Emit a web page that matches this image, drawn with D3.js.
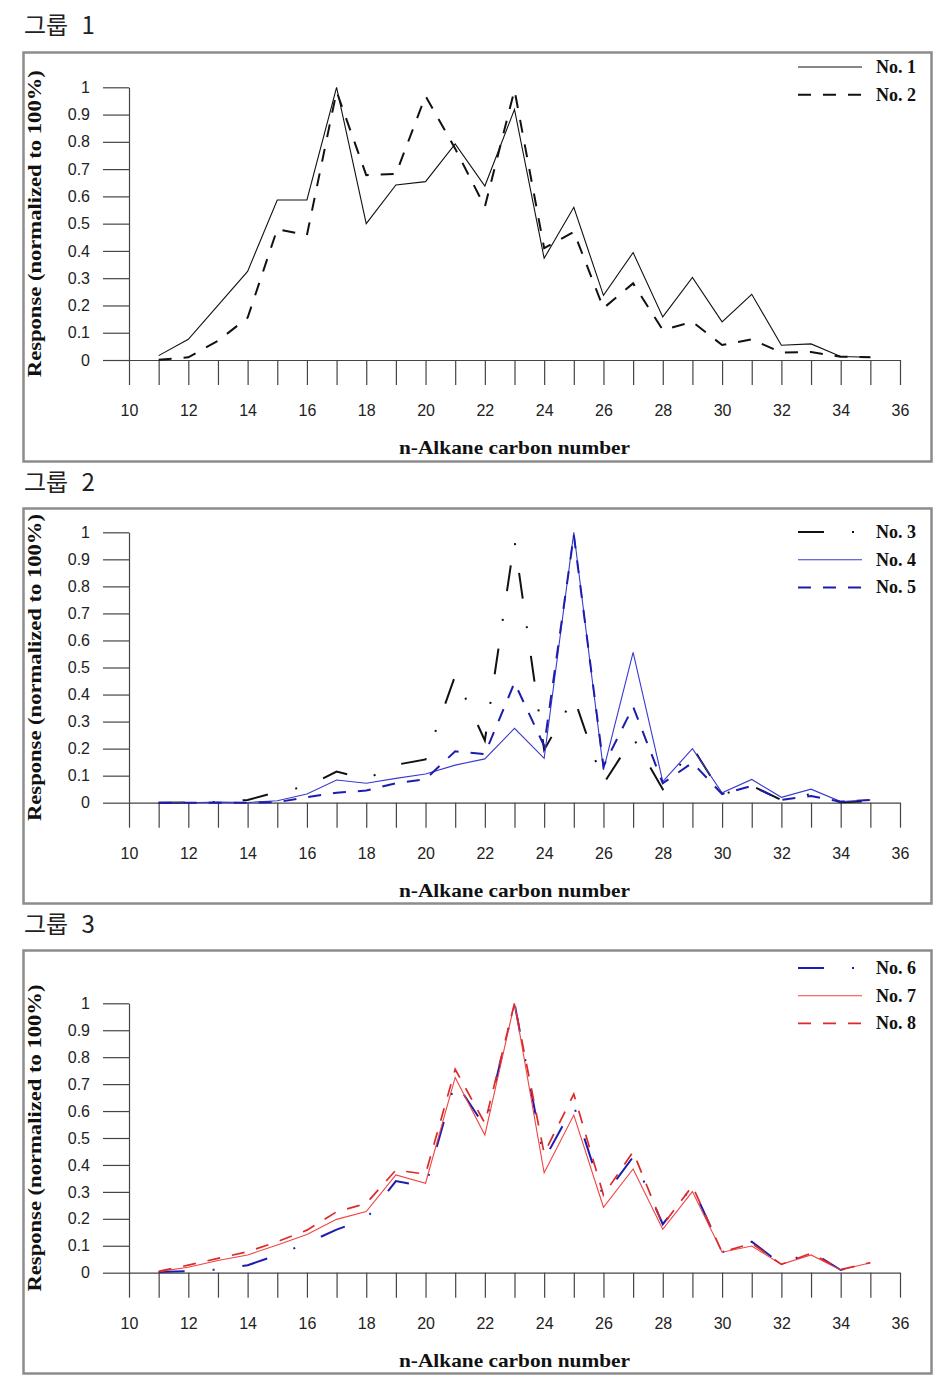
<!DOCTYPE html>
<html><head><meta charset="utf-8">
<script src="https://cdn.jsdelivr.net/npm/d3@7/dist/d3.min.js"></script>
<style>body{margin:0;background:#fff}</style>
</head><body>
<svg id="c" width="944" height="1378"></svg>
<script>
// ---------- DATA ----------
const carbon = [11,12,13,14,15,16,17,18,19,20,21,22,23,24,25,26,27,28,29,30,31,32,33,34,35];
const no1 = [0.016,0.076,0.2,0.325,0.587,0.587,1.0,0.5,0.642,0.654,0.792,0.638,0.919,0.373,0.56,0.237,0.394,0.158,0.303,0.14,0.241,0.054,0.059,0.013,0.01];
const no2 = [0.001,0.01,0.07,0.155,0.48,0.458,0.985,0.678,0.682,0.968,0.775,0.562,0.99,0.41,0.47,0.19,0.281,0.11,0.14,0.055,0.076,0.027,0.029,0.012,0.01];
const no3 = [0,0.001,0.003,0.01,0.04,0.06,0.115,0.087,0.14,0.16,0.47,0.23,0.97,0.195,0.39,0.07,0.24,0.05,0.205,0.03,0.063,0.01,0.032,0.002,0.005];
const no4 = [0,0,0.002,0.001,0.007,0.032,0.084,0.072,0.09,0.106,0.139,0.162,0.275,0.164,1.0,0.121,0.556,0.078,0.2,0.037,0.086,0.02,0.05,0.004,0.01];
const no5 = [0,0,0,0,0.002,0.02,0.037,0.045,0.072,0.087,0.19,0.18,0.444,0.21,0.99,0.135,0.355,0.072,0.148,0.032,0.062,0.01,0.025,0.004,0.01];
const no6 = [0.003,0.006,0.012,0.028,0.065,0.11,0.16,0.2,0.34,0.32,0.71,0.542,1.0,0.42,0.62,0.28,0.43,0.18,0.32,0.076,0.115,0.031,0.078,0.01,0.04];
const no7 = [0.004,0.02,0.045,0.066,0.103,0.142,0.198,0.227,0.363,0.332,0.725,0.511,1.0,0.371,0.585,0.243,0.385,0.161,0.301,0.076,0.099,0.031,0.066,0.01,0.037];
const no8 = [0.005,0.028,0.053,0.078,0.115,0.158,0.226,0.257,0.381,0.366,0.755,0.555,1.0,0.443,0.663,0.288,0.449,0.177,0.322,0.076,0.109,0.031,0.072,0.012,0.037];

const xTicks = [10,11,12,13,14,15,16,17,18,19,20,21,22,23,24,25,26,27,28,29,30,31,32,33,34,35,36];
const xLabels = [10,12,14,16,18,20,22,24,26,28,30,32,34,36];
const yTicks = [0,0.1,0.2,0.3,0.4,0.5,0.6,0.7,0.8,0.9,1];
const groupTitles = ["그룹 1","그룹 2","그룹 3"];
const xTitle = "n-Alkane carbon number";
const yTitle = "Response (normalized to 100%)";
const panelSeries = [
  [["No. 1", no1], ["No. 2", no2]],
  [["No. 3", no3], ["No. 4", no4], ["No. 5", no5]],
  [["No. 6", no6], ["No. 7", no7], ["No. 8", no8]]
];

// ---------- STYLE / LAYOUT ----------
const styles = {
  "No. 1": {c:"#111", w:1.1, d:null},
  "No. 2": {c:"#111", w:2, d:"13,12"},
  "No. 3": {c:"#111", w:2, d:"26,28,2,28"},
  "No. 4": {c:"#3a3ad0", w:1.1, d:null},
  "No. 5": {c:"#1c1cae", w:2, d:"13,12"},
  "No. 6": {c:"#1c1cae", w:2, d:"26,28,2,28"},
  "No. 7": {c:"#f04444", w:1.1, d:null},
  "No. 8": {c:"#dc2a2a", w:1.7, d:"13,12"}
};
const layout = [
  {titleY:34, fTop:52, fH:409, y1:87.3, y0:360, legY:67},
  {titleY:491, fTop:508, fH:395, y1:532.3, y0:802.7, legY:532},
  {titleY:933, fTop:950, fH:423, y1:1003.3, y0:1272.7, legY:968}
];
const serif = "'Liberation Serif','DejaVu Serif',serif";
const sans = "'Liberation Sans',Arial,sans-serif";

const svg = d3.select("#c");
const x = d3.scaleLinear().domain([10,36]).range([129,900]);

layout.forEach((L, i) => {
  const g = svg.append("g");
  g.append("text").attr("x",24).attr("y",L.titleY)
    .attr("font-family","'Noto Sans CJK KR',sans-serif").attr("font-size",24)
    .attr("word-spacing",8)
    .attr("fill","#222").text(groupTitles[i]);
  g.append("rect").attr("x",23.5).attr("y",L.fTop+0.5).attr("width",908).attr("height",L.fH)
    .attr("fill","none").attr("stroke","#8c8c8c").attr("stroke-width",2.5);

  const y = d3.scaleLinear().domain([0,1]).range([L.y0, L.y1]);

  const yAxis = d3.axisLeft(y).tickValues(yTicks).tickSize(26).tickSizeOuter(0).tickPadding(13)
    .tickFormat(d => (d===0||d===1) ? String(d) : d.toFixed(1));
  const ya = g.append("g").attr("transform","translate(129,0)").call(yAxis);
  const xAxis = d3.axisBottom(x).tickValues(xTicks).tickSize(25).tickSizeOuter(0).tickPadding(20)
    .tickFormat(d => xLabels.includes(d) ? String(d) : "");
  const xa = g.append("g").attr("transform",`translate(0,${L.y0})`).call(xAxis);
  [ya, xa].forEach(a => {
    a.select(".domain").attr("stroke","#444").attr("stroke-width",1.2);
    a.selectAll(".tick line").attr("stroke","#444").attr("stroke-width",1.2);
    a.selectAll(".tick text").attr("font-family",sans).attr("font-size",16).attr("fill","#222");
  });

  // axis titles
  g.append("text").attr("x",514.5).attr("y",L.y0+94)
    .attr("text-anchor","middle").attr("font-family",serif).attr("font-weight","bold")
    .attr("font-size",19).attr("fill","#111")
    .attr("textLength",231).attr("lengthAdjust","spacingAndGlyphs").text(xTitle);
  const cy = (L.y0+L.y1)/2;
  g.append("text").attr("transform",`translate(41,${cy}) rotate(-90)`)
    .attr("text-anchor","middle").attr("font-family",serif).attr("font-weight","bold")
    .attr("font-size",19).attr("fill","#111")
    .attr("textLength",307).attr("lengthAdjust","spacingAndGlyphs").text(yTitle);

  // lines
  const line = d3.line().x((d,k)=>x(carbon[k])).y(d=>y(d));
  panelSeries[i].forEach(([name, vals]) => {
    const s = styles[name];
    g.append("path").datum(vals).attr("d",line).attr("fill","none")
      .attr("stroke",s.c).attr("stroke-width",s.w)
      .attr("stroke-dasharray",s.d).attr("stroke-linejoin","miter");
  });

  // legend
  panelSeries[i].forEach(([name], k) => {
    const s = styles[name];
    const ly = L.legY + k*27.7;
    g.append("line").attr("x1",798).attr("x2",862).attr("y1",ly).attr("y2",ly)
      .attr("stroke",s.c).attr("stroke-width",s.w).attr("stroke-dasharray",s.d);
    g.append("text").attr("x",876).attr("y",ly+6)
      .attr("font-family",serif).attr("font-weight","bold").attr("font-size",18)
      .attr("fill","#111").text(name);
  });
});
</script>
</body></html>
